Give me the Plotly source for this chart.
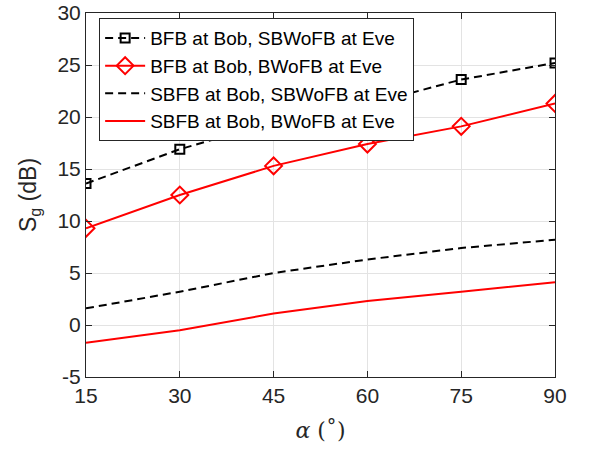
import plotly.graph_objects as go

alpha = [15, 30, 45, 60, 75, 90]
bfb_sbwofb = [13.6, 16.9, 19.5, 21.2, 23.6, 25.2]
bfb_bwofb = [9.3, 12.5, 15.3, 17.4, 19.1, 21.3]
sbfb_sbwofb = [1.6, 3.2, 5.0, 6.3, 7.4, 8.2]
sbfb_bwofb = [-1.7, -0.5, 1.1, 2.3, 3.2, 4.1]
names = ["BFB at Bob, SBWoFB at Eve", "BFB at Bob, BWoFB at Eve",
         "SBFB at Bob, SBWoFB at Eve", "SBFB at Bob, BWoFB at Eve"]
x_ticks = [15, 30, 45, 60, 75, 90]
y_ticks = [-5, 0, 5, 10, 15, 20, 25, 30]
y_ticktext = ["-5", "0", "5", "10", "15", "20", "25", "30"]

DASH = "8px,5px"
fig = go.Figure()
fig.add_trace(go.Scatter(x=alpha, y=bfb_sbwofb, name=names[0], mode="lines+markers",
                         line=dict(color="black", dash=DASH, width=2),
                         marker=dict(symbol="square-open", size=9, color="black", line=dict(width=2))))
fig.add_trace(go.Scatter(x=alpha, y=bfb_bwofb, name=names[1], mode="lines+markers",
                         line=dict(color="red", width=2),
                         marker=dict(symbol="diamond-open", size=13, color="red", line=dict(width=2))))
fig.add_trace(go.Scatter(x=alpha, y=sbfb_sbwofb, name=names[2], mode="lines",
                         line=dict(color="black", dash=DASH, width=2)))
fig.add_trace(go.Scatter(x=alpha, y=sbfb_bwofb, name=names[3], mode="lines",
                         line=dict(color="red", width=2)))

axis_common = dict(showline=True, mirror="ticks", linecolor="#262626", linewidth=1,
                   ticks="inside", ticklen=6, tickcolor="#262626",
                   showgrid=True, gridcolor="#e3e3e3", gridwidth=1, zeroline=False,
                   automargin=False,
                   tickfont=dict(family="Liberation Sans, Arial", size=21, color="#262626"))

fig.update_layout(
    width=611, height=457,
    margin=dict(l=86, r=56, t=13, b=80),
    plot_bgcolor="white", paper_bgcolor="white",
    showlegend=True,
    legend=dict(x=0.028, y=0.986, xanchor="left", yanchor="top",
                bgcolor="white", bordercolor="#262626", borderwidth=1,
                font=dict(family="Liberation Sans, Arial", size=19, color="black"),
                tracegroupgap=0, itemwidth=40),
    xaxis=dict(range=[15, 90], tickvals=x_ticks,
               title=dict(text="<i>α</i> (˚)", font=dict(family="DejaVu Serif, serif", size=22, color="#262626"), standoff=16),
               **axis_common),
    yaxis=dict(range=[-5, 30], tickvals=y_ticks, ticktext=y_ticktext,
               title=dict(text="S<sub>g</sub> (dB)", font=dict(family="Liberation Sans, Arial", size=23, color="#262626"), standoff=14),
               **axis_common),
)

fig.write_html("out.html")
